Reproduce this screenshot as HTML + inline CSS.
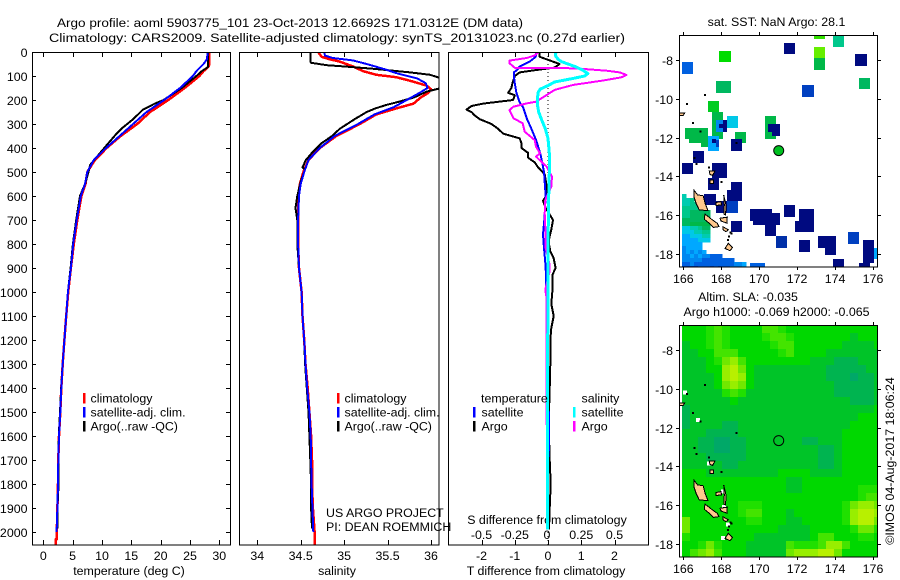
<!DOCTYPE html>
<html lang="en">
<head>
<meta charset="utf-8">
<title>Argo profile 5903775_101</title>
<style>
html,body{margin:0;padding:0;background:#fff;}
svg{display:block;}
text{font-family:"Liberation Sans",sans-serif;font-size:12.4px;fill:#000;}
</style>
</head>
<body>
<svg id="fig" xmlns="http://www.w3.org/2000/svg" width="900" height="580" viewBox="0 0 900 580">
  <defs>
    <clipPath id="clip-p1"><rect x="33" y="52" width="198" height="493"/></clipPath>
    <clipPath id="clip-p2"><rect x="240" y="52" width="199" height="493"/></clipPath>
    <clipPath id="clip-p3"><rect x="449" y="52" width="199" height="493"/></clipPath>
    <clipPath id="clip-m1"><rect x="680" y="36" width="197" height="231"/></clipPath>
    <clipPath id="clip-m2"><rect x="680" y="326" width="197" height="231"/></clipPath>
  </defs>
  <text x="290" y="27" text-anchor="middle" textLength="466" lengthAdjust="spacingAndGlyphs">Argo profile: aoml 5903775_101 23-Oct-2013 12.6692S 171.0312E (DM data)</text>
  <text x="337" y="42" text-anchor="middle" textLength="576" lengthAdjust="spacingAndGlyphs">Climatology: CARS2009. Satellite-adjusted climatology: synTS_20131023.nc (0.27d earlier)</text>
  <text x="129" y="575" text-anchor="middle">temperature (deg C)</text>
  <text x="337" y="575" text-anchor="middle">salinity</text>
  <text x="546" y="575" text-anchor="middle">T difference from climatology</text>
  <text x="547" y="524" text-anchor="middle">S difference from climatology</text>
  <text x="776.5" y="26" text-anchor="middle">sat. SST: NaN Argo: 28.1</text>
  <text x="748" y="301" text-anchor="middle">Altim. SLA: -0.035</text>
  <text x="776.5" y="316" text-anchor="middle">Argo h1000: -0.069 h2000: -0.065</text>
  <text transform="translate(894,461) rotate(-90)" text-anchor="middle">©IMOS 04-Aug-2017 18:06:24</text>
  <g id="layer"></g>
  <g id="overlay">
    <text x="326" y="517">US ARGO PROJECT</text>
    <text x="326" y="531">PI: DEAN ROEMMICH</text>
  </g>
</svg>
<script>
// ---------- axis tick labels ----------
const depthTicks = [0,100,200,300,400,500,600,700,800,900,1000,1100,1200,1300,1400,1500,1600,1700,1800,1900,2000];
const tempTicks = [0,5,10,15,20,25,30];
const salTicks = [34,34.5,35,35.5,36];
const tDiffTicks = [-2,-1,0,1,2];
const sDiffTicks = [-0.5,-0.25,0,0.25,0.5];
const lonTicks = [166,168,170,172,174,176];
const latTicks = [-8,-10,-12,-14,-16,-18];

// ---------- temperature profiles (depth m, deg C) ----------
const tempClimDepth = [0,50,60,80,100,150,200,250,300,350,400,450,500,550,600,700,800,900,1000,1100,1200,1300,1400,1500,1600,1700,1800,1900,2000,2030,2031,2054];
const tempClimValue = [28.3,28.3,28.2,27.3,26.6,24.1,21.3,18.2,16,13.2,10.8,8.8,7.5,7.2,6.5,5.8,5.2,4.7,4.25,3.9,3.6,3.3,3.07,2.9,2.67,2.56,2.5,2.4,2.3,2.3,2.1,2.1];
const tempArgoDepth = [0,50,62,80,100,150,200,215,240,280,320,340,380,420,470,500,550,600,700,800,900,1000,1100,1200,1300,1400,1500,1600,1700,1800,1900,1985];
const tempArgoValue = [28.1,28.1,28.1,27,26.1,23.6,20.5,19,17,15.3,13.3,12.5,11.1,9.7,8,7.7,7.1,6.25,5.6,5.05,4.65,4.2,3.9,3.6,3.3,3.05,2.85,2.65,2.6,2.6,2.4,2.45];
const tempSatDepth = [0,30,50,80,100,150,200,250,300,350,400,450,500,550,600,700,800,900,1000,1100,1200,1300,1400,1500,1600,1700,1800,1900,2000];
const tempSatValue = [28,27.9,27.3,26.1,25.5,23.3,20.6,17.6,15.3,13,10.7,8.6,7.5,7.1,6.4,5.7,5.1,4.7,4.2,3.9,3.6,3.3,3.07,2.9,2.67,2.56,2.5,2.4,2.27];

// ---------- salinity profiles (depth m, psu) ----------
const salClimDepth = [0,20,30,40,60,80,95,105,120,140,155,170,190,215,235,260,300,350,400,450,500,550,600,700,800,900,1000,1100,1200,1300,1400,1500,1600,1700,1800,1900,2000,2054];
const salClimValue = [34.7,34.74,34.83,34.95,35.1,35.22,35.37,35.6,35.76,35.95,36,35.97,35.88,35.8,35.6,35.37,35.18,34.91,34.72,34.59,34.53,34.49,34.47,34.47,34.47,34.48,34.51,34.52,34.54,34.555,34.58,34.6,34.62,34.63,34.63,34.64,34.66,34.66];
const salArgoDepth = [0,40,45,55,60,70,85,95,110,150,165,190,210,220,235,250,280,320,350,380,420,450,480,490,540,600,650,700,800,900,1000,1100,1200,1300,1400,1500,1600,1700,1800,1900,1985];
const salArgoValue = [34.61,34.61,34.62,34.8,34.99,35.34,35.76,35.99,36.12,36.12,35.95,35.8,35.6,35.49,35.36,35.26,35.12,34.95,34.86,34.74,34.63,34.56,34.52,34.55,34.5,34.46,34.44,34.46,34.46,34.48,34.51,34.52,34.54,34.55,34.57,34.59,34.6,34.61,34.62,34.62,34.63];
const salSatDepth = [0,15,25,35,50,70,90,110,130,150,170,200,230,260,300,350,400,450,500,550,600,700,800,900,1000,1100,1200,1300,1400,1500,1600,1700,1800,1900,2000];
const salSatValue = [34.77,34.78,34.87,35.1,35.26,35.45,35.62,35.84,35.94,35.96,35.87,35.72,35.57,35.35,35.16,34.89,34.72,34.59,34.54,34.5,34.48,34.47,34.47,34.48,34.51,34.52,34.54,34.555,34.575,34.6,34.615,34.62,34.625,34.635,34.645];

// ---------- difference profiles ----------
const dtSatDepth = [0,20,40,60,75,85,100,130,170,210,230,280,320,370,430,500,600,700,760,800,850,900,1000,1200,1480,1500,1650,1700,1990];
const dtSatValue = [-0.35,-0.37,-0.55,-0.85,-0.93,-1.03,-1.03,-1,-0.95,-0.85,-0.75,-0.63,-0.5,-0.35,-0.22,-0.12,-0.07,-0.11,-0.15,-0.13,-0.1,-0.07,-0.05,-0.05,-0.05,0.03,0.03,0,0];
const dtArgoDepth = [0,20,30,50,65,75,85,100,130,150,170,180,200,205,215,225,240,250,265,280,300,320,340,360,380,400,420,440,460,480,510,550,600,620,650,700,740,780,800,830,860,900,930,1000,1050,1100,1150,1200,1300,1400,1500,1600,1700,1800,1900,1990];
const dtArgoValue = [-0.25,-0.25,-0.05,0.35,0.2,-0.35,-0.85,-1,-1.07,-1.1,-1.2,-1,-1.05,-1.35,-1.95,-2.3,-2.45,-2.3,-2.2,-2.05,-1.7,-1.5,-1.35,-0.85,-0.8,-0.8,-0.6,-0.6,-0.4,-0.3,-0.1,-0.05,-0.05,-0.15,-0.07,0.15,0.1,0.03,0.03,0.07,0.17,0.23,0.13,0.13,0.1,0.17,0.1,0.07,0.07,0.05,0.03,0.03,0.05,0.08,0.05,0.03];
const dsArgoDepth = [0,14,25,36,47,56,66,68,78,85,96,106,119,137,158,179,207,214,228,242,276,297,332,367,394,422,436,457,478,519,561,617,672,728,810,880,920,990,1030,1200,1500,1555];
const dsArgoValue = [-0.07,-0.1,-0.16,-0.29,-0.29,-0.27,-0.25,0.2,0.44,0.54,0.59,0.55,0.41,0.19,0.05,-0.01,-0.09,-0.16,-0.26,-0.29,-0.26,-0.19,-0.175,-0.1,-0.09,-0.06,-0.09,-0.05,-0.01,0.03,0.025,-0.02,-0.025,-0.02,-0.02,0.01,0.01,-0.02,-0.01,-0.01,-0.01,-0.01];
const dsSatDepth = [0,15,30,40,50,62,75,90,100,110,125,140,155,170,200,220,250,280,320,360,420,500,600,800,1000,1500,1990];
const dsSatValue = [0.06,0.055,0.075,0.1,0.15,0.21,0.26,0.3,0.275,0.19,0.05,0,-0.06,-0.075,-0.08,-0.08,-0.07,-0.05,-0.02,0,0.01,0.01,0.005,0,0,-0.005,-0.005];

// ---------- SST map: palette index per cell ----------
const sstPalette = ['#000a80','#0040c0','#0060e0','#0088f0','#00a8ff','#00c8e8','#00ccb0','#00c88c','#00b860','#00b848','#00cc20','#00dc00','#66ee00','#33e000','#0030a8'];
const sstBlockWest = [171.31,175.05,165.93,167.88,172.89,172.89,173.89,172.89,167.72,175.26,172.26,167.30,167.51,168.30,167.72,168.09,167.88,170.31,170.46,170.67,166.09,166.30,166.93,167.30,167.51,167.72,168.72,168.51,166.51,165.93,167.51,167.30,168.51,168.30,167.09,167.72,168.30,171.31,169.51,169.67,172.10,171.89,168.51,170.31,170.89,174.68,172.10,173.10,173.47,175.47,173.89,175.26,176.05,169.51];
const sstBlockNorth = [-7.12,-7.69,-8.10,-7.54,-7.33,-7.90,-6.76,-6.76,-9.08,-8.93,-9.29,-10.11,-10.68,-10.89,-11.09,-11.09,-11.30,-10.89,-11.30,-11.71,-11.51,-12.07,-12.28,-11.92,-12.07,-12.12,-11.71,-12.07,-12.69,-13.31,-13.31,-14.08,-14.29,-14.70,-14.91,-15.27,-15.27,-15.47,-15.68,-15.89,-15.68,-16.30,-16.30,-16.51,-17.07,-16.87,-17.28,-17.07,-17.69,-17.28,-18.26,-18.46,-17.69,-18.46];
const sstBlockEast = [171.89,175.68,166.51,168.51,173.47,173.47,174.47,173.47,168.51,175.84,172.89,167.88,168.09,168.88,168.30,168.30,168.09,170.89,171.09,171.09,167.30,167.30,167.30,167.88,167.72,167.88,169.30,169.09,167.09,166.51,168.30,167.88,169.09,168.51,167.72,168.30,168.88,171.89,170.67,171.09,172.89,172.89,169.09,170.89,171.47,175.26,172.68,174.05,174.05,176.05,174.47,175.84,176.23,170.31];
const sstBlockSouth = [-7.69,-8.31,-8.72,-8.10,-7.90,-8.52,-7.33,-6.92,-9.70,-9.49,-9.91,-10.68,-12.07,-11.51,-11.71,-11.71,-11.51,-12.07,-11.71,-11.92,-12.07,-12.28,-12.48,-12.69,-12.28,-12.48,-12.28,-12.69,-13.31,-13.88,-14.08,-14.70,-15.27,-15.27,-15.47,-15.89,-15.89,-16.09,-16.30,-16.51,-16.30,-16.87,-16.87,-17.07,-17.69,-17.48,-17.90,-17.69,-18.05,-18.46,-18.69,-18.69,-18.26,-18.69];
const sstBlockValue = [0,0,2,11,12,9,7,13,8,8,1,10,9,5,3,0,0,9,0,0,9,9,9,4,0,1,9,0,0,0,0,0,0,0,0,0,1,0,0,0,0,0,0,0,14,1,0,0,0,0,0,0,4,2];
const sstFineRows = [
 "6...............",
 "667.............",
 "6677............",
 "77777...........",
 "7788888.........",
 "7788898.........",
 "8888889.........",
 "8899999.........",
 "5566788.........",
 "5556677.........",
 "4455566.........",
 "4444555.........",
 "44444...........",
 "34444...........",
 "343434..........",
 "3343433222......",
 "3333322222222...",
 "2232222222222334",
 "1111222121223..."
];

// ---------- altimetry map: colour class per cell ----------
const slaPalette = ['#00a868','#00b450','#00c428','#00d800','#20e000','#44e400','#70e800','#98ee00','#b8f000'];
const slaRows = [
 "3334543333554333333333333",
 "3334543333455433333332333",
 "2334543333345533333322223",
 "2233555333334533332222222",
 "2223467533333333222111222",
 "2223378632222222221111122",
 "2222378732222222221110112",
 "2222367632222222222111112",
 "2222245422222222222111112",
 "2222223222222222222221112",
 "1222222222222222222222223",
 "1222222222222222222222333",
 "1222211222222222222223333",
 "2221111222222222222233333",
 "2211001122222221122233333",
 "2211001122222222211233333",
 "2221111122222222211233333",
 "2222211222222222211233333",
 "3332222222223333222233333",
 "3333333333333223333333333",
 "3333333333333223333333444",
 "3333333333333333333333455",
 "3333333444333333333346776",
 "3333333455333233333347887",
 "6333333344333223333347886",
 "6333333333332222333334664",
 "4333333332222222355333443",
 "3346433322222544457753333",
 "3567533322222677788633333"
];
const slaMissingLon = [166.1,166.78,167.35,168.1,168.15,168.35,168.1];
const slaMissingLat = [-10.2,-11.6,-13.85,-15.3,-16.1,-17.0,-17.7];

// ---------- coastlines ----------
const islandLons = [
 [166.56,166.75,167.05,167.15,167.30,166.84,166.68,166.56],
 [167.14,167.37,167.49,167.79,167.88,167.58,167.37,167.11],
 [168.13,168.25,168.23,168.14,168.16],
 [167.93,168.32,168.30,167.99],
 [167.72,167.98,168.02,167.72],
 [168.37,168.60,168.46,168.20],
 [168.10,168.37,168.25,168.10],
 [167.37,167.67,167.55,167.40],
 [167.40,167.58,167.58,167.40],
 [165.80,166.08,166.00,165.80]
];
const islandLats = [
 [-14.70,-14.95,-15.00,-15.39,-15.77,-15.72,-15.40,-15.04],
 [-15.94,-16.11,-16.21,-16.42,-16.59,-16.63,-16.42,-16.21],
 [-14.96,-15.47,-15.99,-15.94,-15.47],
 [-16.16,-16.10,-16.41,-16.30],
 [-15.35,-15.30,-15.47,-15.50],
 [-17.45,-17.66,-17.83,-17.71],
 [-16.60,-16.75,-16.85,-16.75],
 [-13.72,-13.72,-13.95,-13.90],
 [-14.19,-14.19,-14.36,-14.36],
 [-10.72,-10.72,-10.85,-10.85]
];
const isletLon = [167.14,166.2,166.5,166.9,168.8,166.58,166.70,167.35,168.02,168.50,168.55,168.42,168.35];
const isletLat = [-9.8,-10.27,-11.25,-11.68,-12.28,-13.05,-13.35,-13.55,-14.28,-16.88,-16.95,-17.10,-17.28];
const argoLon = [171.03];
const argoLat = [-12.67];

// ---------- axis functions ----------
const linear = (d0,r0,d1,r1) => v => r0 + (v-d0)*(r1-r0)/(d1-d0);
const yDepth = linear(0,52,2000,532);
const xTemp = linear(0,43.3,30,219.3);
const xSal = linear(34,257.3,36,431);
const xDT = linear(-2,481.5,2,614.5);
const xDS = linear(-0.5,481.5,0.5,614.5);
const xLon = linear(166,683.3,176,873);
const yLat1 = linear(-8,60,-18,254);
const yLat2 = linear(-8,350,-18,544);

const NS = 'http://www.w3.org/2000/svg';
const layer = document.getElementById('layer');

function make(tag, attrs, parent, name){
  const el = document.createElementNS(NS, tag);
  for (const k in attrs) el.setAttribute(k, attrs[k]);
  
  
  parent.appendChild(el);
  return el;
}
function label(x,y,txt,anchor,parent,name){
  const t = make('text',{x:x,y:y,'text-anchor':anchor},parent,name);
  t.textContent = txt;
  return t;
}
function tick(x1,y1,x2,y2,parent,name){
  make('line',{x1:x1,y1:y1,x2:x2,y2:y2,stroke:'#000','stroke-width':1,'shape-rendering':'crispEdges'},parent,name);
}
function box(x,y,w,h,parent,name){
  make('rect',{x:x,y:y,width:w,height:h,fill:'none',stroke:'#000','stroke-width':1,'shape-rendering':'crispEdges'},parent,name);
}
function profile(depths,values,xScale,color,width,parent,name){
  const pts = depths.map((d,i)=>xScale(values[i]).toFixed(1)+','+yDepth(d).toFixed(1)).join(' ');
  make('polyline',{points:pts,fill:'none',stroke:color,'stroke-width':width,'stroke-linejoin':'round','shape-rendering':'crispEdges'},parent,name);
}
function fmt(v){ return String(v); }

// ---------- panel frames ----------
const panels = [
 {id:'p1',x0:33,x1:231,name:'temperature-panel'},
 {id:'p2',x0:240,x1:439,name:'salinity-panel'},
 {id:'p3',x0:449,x1:648,name:'difference-panel'}
];
const panelGroups = {};
panels.forEach(p=>{
  const g = make('g',{},layer,p.name);
  panelGroups[p.id] = g;
});

// temperature panel
const gT = panelGroups.p1;
const gTData = make('g',{'clip-path':'url(#clip-p1)'},gT,'temperature-series');
profile(tempClimDepth,tempClimValue,xTemp,'#ff0000',2.5,gTData,'temperature-climatology-line');
profile(tempArgoDepth,tempArgoValue,xTemp,'#000000',2,gTData,'temperature-argo-line');
profile(tempSatDepth,tempSatValue,xTemp,'#0000ff',2,gTData,'temperature-satellite-line');
box(32.5,52.5,198,492.5,gT,'temperature-plot-frame');
depthTicks.forEach(d=>{
  const y = Math.round(yDepth(d))+0.5;
  tick(33,y,36,y,gT,'depth-tick-left');
  tick(226,y,231,y,gT,'depth-tick-right');
  label(27.5,y+4.5,fmt(d),'end',gT,'depth-tick-label');
});
tempTicks.forEach(t=>{
  const x = Math.round(xTemp(t))+0.5;
  tick(x,52,x,57,gT,'temperature-tick-top');
  tick(x,540,x,545,gT,'temperature-tick-bottom');
  label(xTemp(t),560,fmt(t),'middle',gT,'temperature-tick-label');
});

// salinity panel
const gS = panelGroups.p2;
const gSData = make('g',{'clip-path':'url(#clip-p2)'},gS,'salinity-series');
profile(salClimDepth,salClimValue,xSal,'#ff0000',2.5,gSData,'salinity-climatology-line');
profile(salArgoDepth,salArgoValue,xSal,'#000000',2,gSData,'salinity-argo-line');
profile(salSatDepth,salSatValue,xSal,'#0000ff',2,gSData,'salinity-satellite-line');
box(239.5,52.5,199.5,492.5,gS,'salinity-plot-frame');
salTicks.forEach(t=>{
  const x = Math.round(xSal(t))+0.5;
  tick(x,52,x,57,gS,'salinity-tick-top');
  tick(x,540,x,545,gS,'salinity-tick-bottom');
  label(xSal(t),560,fmt(t),'middle',gS,'salinity-tick-label');
});

// difference panel
const gD = panelGroups.p3;
const gDData = make('g',{'clip-path':'url(#clip-p3)'},gD,'difference-series');
make('line',{x1:xDT(0),y1:52,x2:xDT(0),y2:545,stroke:'#000','stroke-width':1,'stroke-dasharray':'1 3','shape-rendering':'crispEdges'},gDData,'zero-reference-line');
profile(dtArgoDepth,dtArgoValue,xDT,'#000000',2,gDData,'t-difference-argo-line');
profile(dtSatDepth,dtSatValue,xDT,'#0000ff',2,gDData,'t-difference-satellite-line');
profile(dsArgoDepth,dsArgoValue,xDS,'#ff00ff',2,gDData,'s-difference-argo-line');
profile(dsSatDepth,dsSatValue,xDS,'#00ffff',3,gDData,'s-difference-satellite-line');
box(448.5,52.5,200,492.5,gD,'difference-plot-frame');
tDiffTicks.forEach(t=>{
  const x = Math.round(xDT(t))+0.5;
  tick(x,52,x,57,gD,'t-difference-tick-top');
  tick(x,540,x,545,gD,'t-difference-tick-bottom');
  label(xDT(t),560,fmt(t),'middle',gD,'t-difference-tick-label');
});
sDiffTicks.forEach(t=>{
  label(xDS(t)-(t===0?1:0),539,fmt(t),'middle',gD,'s-difference-tick-label');
});

// ---------- legends ----------
function legendEntry(xMark,xText,yMid,color,txt,parent){
  make('line',{x1:xMark,y1:yMid-5,x2:xMark,y2:yMid+5.5,stroke:color,'stroke-width':2.5,'shape-rendering':'crispEdges'},parent,'legend-marker');
  label(xText,yMid+4.5,txt,'start',parent,'legend-entry');
}
const legT = make('g',{},layer,'temperature-legend');
legendEntry(84,90.5,398,'#ff0000','climatology',legT);
legendEntry(84,90.5,412,'#0000ff','satellite-adj. clim.',legT);
legendEntry(84,90.5,426,'#000000','Argo(..raw -QC)',legT);
const legS = make('g',{},layer,'salinity-legend');
legendEntry(338,344.5,398,'#ff0000','climatology',legS);
legendEntry(338,344.5,412,'#0000ff','satellite-adj. clim.',legS);
legendEntry(338,344.5,426,'#000000','Argo(..raw -QC)',legS);
const legD = make('g',{},layer,'difference-legend');
label(481,402.5,'temperature','start',legD,'legend-heading-temperature');
label(581.5,402.5,'salinity','start',legD,'legend-heading-salinity');
legendEntry(474,481.5,412,'#0000ff','satellite',legD);
legendEntry(474,481.5,426,'#000000','Argo',legD);
legendEntry(574,581.5,412,'#00ffff','satellite',legD);
legendEntry(574,581.5,426,'#ff00ff','Argo',legD);

// ---------- maps ----------
function islands(yLat,parent){
  islandLons.forEach((lons,i)=>{
    const pts = lons.map((lon,j)=>xLon(lon).toFixed(1)+','+yLat(islandLats[i][j]).toFixed(1)).join(' ');
    make('polygon',{points:pts,fill:'#ffc88c',stroke:'#000','stroke-width':1,'shape-rendering':'crispEdges'},parent,'island');
  });
  isletLon.forEach((lon,i)=>{
    make('rect',{x:xLon(lon)-1,y:yLat(isletLat[i])-1,width:2,height:2,fill:'#000','shape-rendering':'crispEdges'},parent,'islet');
  });
}
function mapFrame(yLat,top,bottom,parent,prefix,labelBase){
  box(679.5,top+0.5,198,bottom-top-0.5,parent,prefix+'-frame');
  lonTicks.forEach(lon=>{
    const x = Math.round(xLon(lon))+0.5;
    tick(x,top-3,x,top,parent,prefix+'-lon-tick-top');
    tick(x,bottom,x,bottom+3,parent,prefix+'-lon-tick-bottom');
    label(xLon(lon),labelBase,fmt(lon),'middle',parent,prefix+'-lon-label');
  });
  latTicks.forEach(lat=>{
    const y = Math.round(yLat(lat))+0.5;
    tick(676,y,679,y,parent,prefix+'-lat-tick-left');
    tick(878,y,881,y,parent,prefix+'-lat-tick-right');
    label(673,y+4.5,fmt(lat),'end',parent,prefix+'-lat-label');
  });
}

// SST map
const gM1 = make('g',{},layer,'sst-map');
const gM1Data = make('g',{'clip-path':'url(#clip-m1)'},gM1,'sst-map-cells');
sstBlockValue.forEach((v,i)=>{
  const x0 = xLon(sstBlockWest[i]), x1 = xLon(sstBlockEast[i]);
  const y0 = yLat1(sstBlockNorth[i]), y1 = yLat1(sstBlockSouth[i]);
  make('rect',{x:x0.toFixed(1),y:y0.toFixed(1),width:(x1-x0).toFixed(1),height:(y1-y0).toFixed(1),fill:sstPalette[v],'shape-rendering':'crispEdges'},gM1Data,'sst-block');
});
sstFineRows.forEach((row,r)=>{
  [...row].forEach((c,k)=>{
    if (c === '.') return;
    const lon = 165.93 + k*0.211, lat = -14.9 - r*0.206;
    make('rect',{x:xLon(lon).toFixed(1),y:yLat1(lat).toFixed(1),width:4.5,height:4.5,fill:sstPalette[+c],'shape-rendering':'crispEdges'},gM1Data,'sst-cell');
  });
});
islands(yLat1,gM1Data);
make('circle',{cx:xLon(argoLon[0]),cy:yLat1(argoLat[0]),r:5,fill:'#00c020',stroke:'#000','stroke-width':1},gM1Data,'argo-position-marker-sst');
mapFrame(yLat1,35,267,gM1,'sst-map',283);

// SLA map
const gM2 = make('g',{},layer,'sla-map');
const gM2Data = make('g',{'clip-path':'url(#clip-m2)'},gM2,'sla-map-cells');
slaRows.forEach((row,r)=>{
  [...row].forEach((c,k)=>{
    const lon = 165.93 + k*0.4217, lat = -6.71 - r*0.4124;
    make('rect',{x:xLon(lon).toFixed(1),y:yLat2(lat).toFixed(1),width:8.5,height:8.5,fill:slaPalette[+c],'shape-rendering':'crispEdges'},gM2Data,'sla-cell');
  });
});
slaMissingLon.forEach((lon,i)=>{
  make('rect',{x:xLon(lon)-2,y:yLat2(slaMissingLat[i])-2,width:4,height:4,fill:'#fff','shape-rendering':'crispEdges'},gM2Data,'sla-missing-cell');
});
islands(yLat2,gM2Data);
make('circle',{cx:xLon(argoLon[0]),cy:yLat2(argoLat[0]),r:5,fill:'none',stroke:'#000','stroke-width':1},gM2Data,'argo-position-marker-sla');
mapFrame(yLat2,325,557,gM2,'sla-map',573);
</script>
</body>
</html>
